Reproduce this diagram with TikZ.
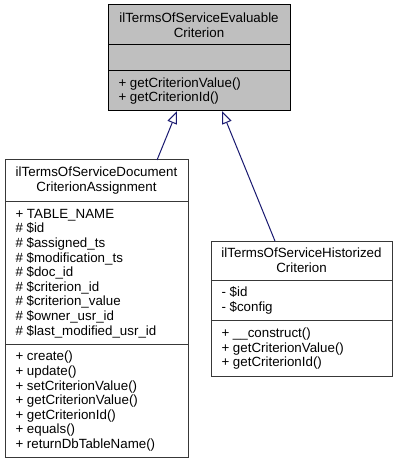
\documentclass[tikz,border=0pt]{standalone}
\usepackage{fontspec}
\setmainfont{Liberation Sans}
\usetikzlibrary{arrows.meta}
\definecolor{edgeblue}{HTML}{191970}
\definecolor{boxgray}{HTML}{BFBFBF}
\definecolor{bordergray}{HTML}{383838}
\tikzset{
  x=0.75pt, y=-0.75pt,
  classbox/.style={draw=bordergray, line width=0.75pt, inner sep=0pt, outer sep=0pt, anchor=north west},
  mainbox/.style={classbox, draw=black, fill=boxgray},
  divider/.style={draw=bordergray, line width=0.75pt},
  maindivider/.style={draw=black, line width=0.75pt},
  txt/.style={inner sep=0pt, outer sep=0pt, font=\fontsize{10}{10.95}\selectfont},
  members/.style={txt, anchor=north west, align=left},
  title/.style={txt, anchor=north, align=center},
  inh/.style={draw=edgeblue, line width=0.75pt, -{Triangle[open, length=9.5pt, width=7.5pt]}}
}
\newcommand{\strt}{\rule{0pt}{8pt}}
\begin{document}
\begin{tikzpicture}
\useasboundingbox (0,0) rectangle (400,463);
% top class
\node[mainbox, minimum width=136.5pt, minimum height=79.5pt] (eval) at (108,5) {};
\draw[maindivider] ([yshift=-30pt]eval.north west) -- ([yshift=-30pt]eval.north east);
\draw[maindivider] ([yshift=-49.5pt]eval.north west) -- ([yshift=-49.5pt]eval.north east);
\node[title] (evalt) at (199,11.8) {\strt ilTermsOfServiceEvaluable\\Criterion};
\node[members] (evalm) at (118.5,76.5) {\strt + getCriterionValue()\\+ getCriterionId()};
% left class
\node[classbox, fill=white, minimum width=137.25pt, minimum height=222.75pt] (assign) at (5,160) {};
\draw[divider] ([yshift=-30.75pt]assign.north west) -- ([yshift=-30.75pt]assign.north east);
\draw[divider] ([yshift=-138pt]assign.north west) -- ([yshift=-138pt]assign.north east);
\node[title] (assignt) at (96.5,166.3) {\strt ilTermsOfServiceDocument\\CriterionAssignment};
\node[members] (assigna) at (15.5,207.7) {\strt + TABLE\_NAME\\\# \$id\\\# \$assigned\_ts\\\# \$modification\_ts\\\# \$doc\_id\\\# \$criterion\_id\\\# \$criterion\_value\\\# \$owner\_usr\_id\\\# \$last\_modified\_usr\_id};
\node[members] (assignm) at (15.5,350.3) {\strt + create()\\+ update()\\+ setCriterionValue()\\+ getCriterionValue()\\+ getCriterionId()\\+ equals()\\+ returnDbTableName()};
% right class
\node[classbox, fill=white, minimum width=135.75pt, minimum height=101.25pt] (hist) at (211,241) {};
\draw[divider] ([yshift=-29.25pt]hist.north west) -- ([yshift=-29.25pt]hist.north east);
\draw[divider] ([yshift=-59.25pt]hist.north west) -- ([yshift=-59.25pt]hist.north east);
\node[title] (histt) at (301.5,246.8) {\strt ilTermsOfServiceHistorized\\Criterion};
\node[members] (hista) at (221.5,286.3) {\strt - \$id\\- \$config};
\node[members] (histm) at (221.5,327) {\strt + \_\_construct()\\+ getCriterionValue()\\+ getCriterionId()};
% inheritance
\draw[inh] ([xshift=45.4pt]assign.north) -- ([xshift=-16.5pt]eval.south);
\draw[inh] ([xshift=-19.9pt]hist.north) -- ([xshift=17.25pt]eval.south);
\end{tikzpicture}
\end{document}
